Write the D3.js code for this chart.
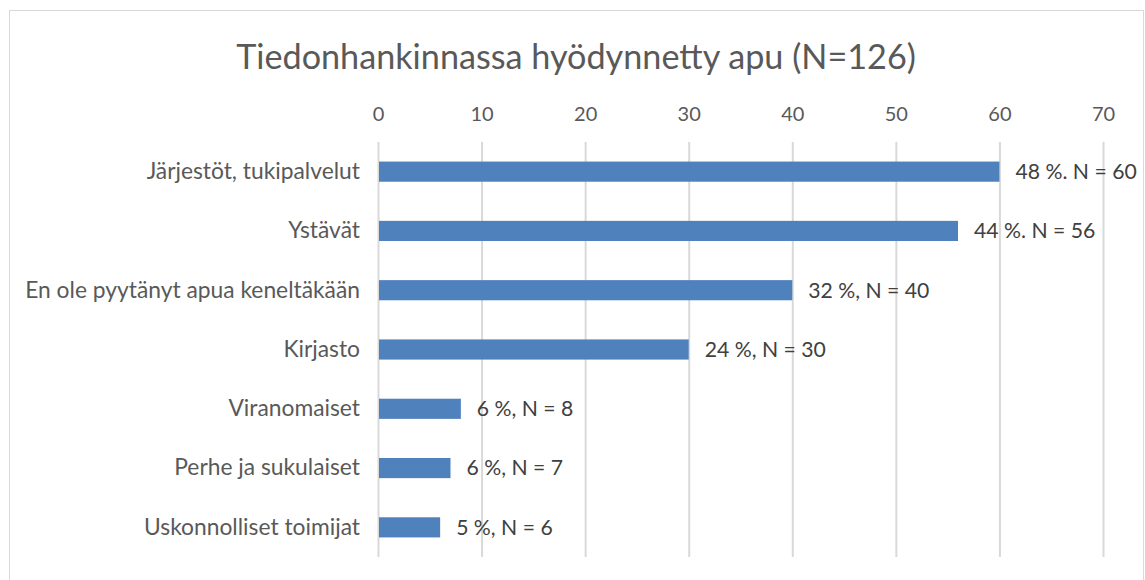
<!DOCTYPE html>
<html>
<head>
<meta charset="utf-8">
<script src="https://cdn.jsdelivr.net/npm/d3@7"></script>
<style>
  body { margin: 0; background: #fff; }
  text { font-family: Lato, "Open Sans", sans-serif; fill: #404040; }
</style>
</head>
<body>
<svg id="chart" width="1145" height="580"></svg>
<script>
// chart data
var categories = ["Järjestöt, tukipalvelut", "Ystävät", "En ole pyytänyt apua keneltäkään",
                  "Kirjasto", "Viranomaiset", "Perhe ja sukulaiset", "Uskonnolliset toimijat"];
var counts = [60, 56, 40, 30, 8, 7, 6];
var labels = ["48 %. N = 60", "44 %. N = 56", "32 %, N = 40", "24 %, N = 30",
              "6 %, N = 8", "6 %, N = 7", "5 %, N = 6"];
var ticks = [0, 10, 20, 30, 40, 50, 60, 70];
var title = "Tiedonhankinnassa hyödynnetty apu (N=126)";

var svg = d3.select("#chart");

// outer frame
svg.append("rect")
   .attr("x", 9.5).attr("y", 10.5)
   .attr("width", 1134).attr("height", 580)
   .attr("fill", "none").attr("stroke", "#d9d9d9");

var x = d3.scaleLinear().domain([0, 70]).range([378, 1103]);
var y = d3.scaleBand().domain(categories).range([142, 557]).paddingInner(0.66).paddingOuter(0.33);

svg.append("text")
   .attr("x", 576).attr("y", 69)
   .attr("text-anchor", "middle")
   .style("font-size", "34.2px")
   .style("fill", "#595959")
   .text(title);

// gridlines
svg.append("g").selectAll("line")
   .data(ticks)
   .join("line")
   .attr("x1", function(d){ return x(d) + 0.5; })
   .attr("x2", function(d){ return x(d) + 0.5; })
   .attr("y1", 142).attr("y2", 557)
   .attr("stroke", "#d9d9d9").attr("stroke-width", 2);

// top axis labels
var xAxis = d3.axisTop(x).tickValues(ticks).tickSize(0).tickPadding(0);
var gx = svg.append("g").attr("transform", "translate(0,121)").call(xAxis);
gx.select(".domain").remove();
gx.selectAll("text").style("font-size", "20px").style("fill", "#595959")
  .style("font-family", "Lato, sans-serif");

// category labels
var yAxis = d3.axisLeft(y).tickSize(0).tickPadding(18);
var gy = svg.append("g").attr("transform", "translate(378,0)").call(yAxis);
gy.select(".domain").remove();
gy.selectAll("text").style("font-size", "22.8px").style("fill", "#595959")
  .style("font-family", "Lato, sans-serif");

// bars
svg.append("g").selectAll("rect")
   .data(counts)
   .join("rect")
   .attr("x", x(0) + 1)
   .attr("y", function(d, i){ return y(categories[i]); })
   .attr("width", function(d){ return x(d) - x(0) - 1; })
   .attr("height", y.bandwidth())
   .attr("fill", "#4f81bd");

// value labels
svg.append("g").selectAll("text")
   .data(counts)
   .join("text")
   .attr("x", function(d){ return x(d) + 16; })
   .attr("y", function(d, i){ return y(categories[i]) + y.bandwidth() / 2; })
   .attr("dy", "0.35em")
   .style("font-size", "21.2px")
   .style("fill", "#404040")
   .text(function(d, i){ return labels[i]; });
</script>
</body>
</html>
